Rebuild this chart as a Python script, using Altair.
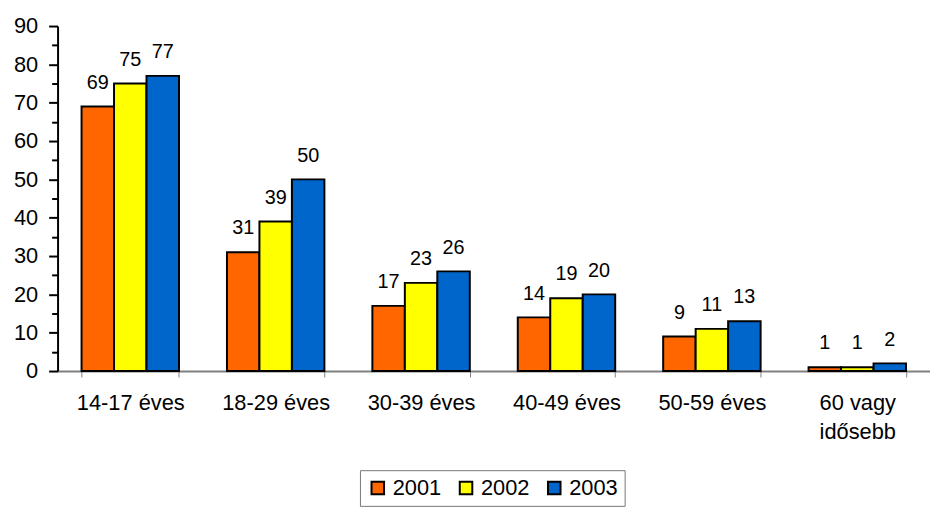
import altair as alt
import pandas as pd

categories = ["14-17 éves", "18-29 éves", "30-39 éves", "40-49 éves", "50-59 éves", "60 vagy idősebb"]
years = ["2001", "2002", "2003"]
v2001 = [69, 31, 17, 14, 9, 1]
v2002 = [75, 39, 23, 19, 11, 1]
v2003 = [77, 50, 26, 20, 13, 2]
colors = ["#FF6600", "#FFFF00", "#0066CC"]
y_ticks = list(range(0, 91, 5))

rows = []
for i, c in enumerate(categories):
    for yr, vals in zip(years, [v2001, v2002, v2003]):
        rows.append({"cat": c, "year": yr, "value": vals[i]})
df = pd.DataFrame(rows)

FONT = "Liberation Sans"

x = alt.X(
    "cat:N",
    sort=categories,
    scale=alt.Scale(paddingInner=0.33, paddingOuter=0.165),
    axis=alt.Axis(
        title=None, labelAngle=0, labelFont=FONT, labelFontSize=22, labelColor="black",
        labelPadding=16, tickBand="extent", tickColor="#808080", tickSize=6, tickWidth=1,
        domainColor="#808080", domainWidth=2, labelLineHeight=29,
        labelExpr="datum.value == '60 vagy idősebb' ? ['60 vagy', 'idősebb'] : datum.label",
    ),
)
y = alt.Y(
    "value:Q",
    scale=alt.Scale(domain=[0, 90], nice=False),
    axis=alt.Axis(
        title=None, values=y_ticks, grid=False,
        labelExpr="datum.value % 10 == 0 ? datum.label : ''",
        labelFont=FONT, labelFontSize=22, labelColor="black", labelPadding=11,
        tickSize={"condition": {"test": "datum.value % 10 == 0", "value": 9}, "value": 6},
        tickColor="black", tickWidth=2, domainColor="black", domainWidth=2,
    ),
)
xo = alt.XOffset("year:N", sort=years, scale=alt.Scale(paddingInner=0, paddingOuter=0))

bars = alt.Chart(df).mark_bar(stroke="black", strokeWidth=2).encode(
    x=x, y=y, xOffset=xo,
    color=alt.Color(
        "year:N", sort=years, scale=alt.Scale(domain=years, range=colors),
        legend=alt.Legend(
            title=None, orient="none", legendX=305, legendY=448, direction="horizontal",
            symbolType="square", symbolSize=160, symbolStrokeColor="black",
            symbolStrokeWidth=2, symbolOpacity=1,
            labelFontSize=22, labelFont=FONT, labelColor="black", strokeColor="#777777",
            padding=7, columnPadding=14, labelOffset=4,
        ),
    ),
)
labels = alt.Chart(df).mark_text(
    font="Liberation Sans", fontSize=20, dy=-18, baseline="alphabetic", color="black"
).encode(x=x, y=y, xOffset=xo, text="value:Q")

chart = alt.layer(bars, labels).properties(
    width=880, height=348,
    padding={"left": 5, "top": 5, "right": 0, "bottom": 5},
).configure_view(stroke=None)

chart.save("out.html", embed_options={"renderer": "svg", "actions": False})
